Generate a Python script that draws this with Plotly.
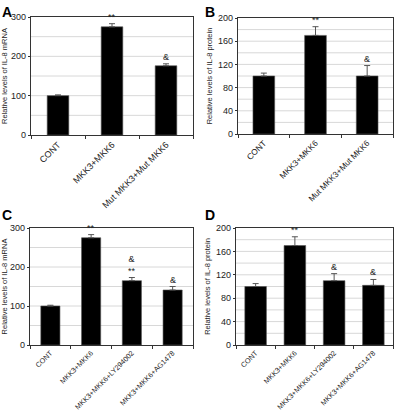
import plotly.graph_objects as go

# ---- data ----
cats_ab = ["CONT", "MKK3+MKK6", "Mut MKK3+Mut MKK6"]
cats_cd = ["CONT", "MKK3+MKK6", "MKK3+MKK6+LY294002", "MKK3+MKK6+AG1478"]

a_vals = [100, 275, 176]
a_err = [2, 8, 5]
a_marks = ["", "**", "&"]

b_vals = [100, 170, 100]
b_err = [5, 15, 18]
b_marks = ["", "**", "&"]

c_vals = [100, 275, 165, 141]
c_err = [2, 8, 8, 9]
c_marks = ["", "**", "&<br>**", "&"]

d_vals = [100, 170, 110, 102]
d_err = [5, 15, 12, 10]
d_marks = ["", "**", "&", "&"]

W, H = 400, 412
FONT = "Liberation Sans, Arial, sans-serif"

panels = [
    ("A", cats_ab, a_vals, a_err, a_marks, "Relative levels of IL-8 mRNA", 300, 100, 50, (31, 193), (17, 135), 0.40, (0, 2), 9),
    ("B", cats_ab, b_vals, b_err, b_marks, "Relative levels of IL-8 protein", 200, 40, 20, (238, 393), (18, 134), 0.42, (203, 2), 8.3),
    ("C", cats_cd, c_vals, c_err, c_marks, "Relative levels of IL-8 mRNA", 300, 100, 50, (30, 193), (228, 345), 0.47, (0, 205), 7.2),
    ("D", cats_cd, d_vals, d_err, d_marks, "Relative levels of IL-8 protein", 200, 40, 20, (236, 393), (228, 345), 0.55, (203, 205), 7.2),
]

fig = go.Figure()
layout = dict(
    width=W, height=H, margin=dict(l=0, r=0, t=0, b=0, autoexpand=False),
    paper_bgcolor="white", plot_bgcolor="white", showlegend=False,
    font=dict(family=FONT, size=9, color="#222"),
)
annotations = []
shapes = []
for i, (lab, cats, vals, err, marks, ytitle, ymax, dtick, grid, xd, yd, bw, lp, xfs) in enumerate(panels):
    n = i + 1
    xa = "x" if n == 1 else f"x{n}"
    ya = "y" if n == 1 else f"y{n}"
    fig.add_trace(go.Bar(
        x=cats, y=vals, xaxis=xa, yaxis=ya, width=bw,
        marker=dict(color="black", line=dict(color="#555", width=0.6)),
        error_y=dict(type="data", array=err, arrayminus=[0] * len(err), symmetric=False,
                     color="#555", thickness=1, width=3),
    ))
    xkey = "xaxis" if n == 1 else f"xaxis{n}"
    ykey = "yaxis" if n == 1 else f"yaxis{n}"
    layout[xkey] = dict(
        domain=[xd[0] / W, xd[1] / W], anchor=ya, type="category", automargin=False,
        showline=True, linecolor="#333", linewidth=1.2, mirror=True,
        ticks="outside", ticklen=3, tickcolor="#333", tickson="boundaries",
        tickangle=-45, tickfont=dict(size=xfs, family=FONT, color="#222"),
        showgrid=False,
    )
    layout[ykey] = dict(
        domain=[1 - yd[1] / H, 1 - yd[0] / H], anchor=xa, automargin=False,
        range=[0, ymax], tickmode="linear", tick0=0, dtick=dtick,
        showline=True, linecolor="#333", linewidth=1.2, mirror=True,
        ticks="outside", ticklen=2, tickcolor="#333",
        showgrid=False, zeroline=False,
        tickfont=dict(size=9, family=FONT, color="#222"),
        title=dict(text=ytitle, font=dict(size=7.5, family=FONT, color="#222"), standoff=4),
    )
    g = grid
    while g < ymax:
        shapes.append(dict(type="line", xref=f"{xa} domain", yref=ya, x0=0, x1=1, y0=g, y1=g,
                           line=dict(color="#d8d8d8", width=1), layer="below"))
        g += grid
    for c, v, e, m in zip(cats, vals, err, marks):
        if m:
            annotations.append(dict(x=c, y=v + e, xref=xa, yref=ya, text=m, showarrow=False,
                                    yanchor="bottom", yshift=0,
                                    font=dict(size=9, family=FONT, color="#222")))
    annotations.append(dict(x=lp[0] / W, y=1 - lp[1] / H, xref="paper", yref="paper",
                            text=f"<b>{lab}</b>", showarrow=False, xanchor="left", yanchor="top",
                            font=dict(size=14, family=FONT, color="black")))

layout["annotations"] = annotations
layout["shapes"] = shapes
fig.update_layout(**layout)
fig.write_html("out.html", config={"displayModeBar": False},
               post_script="document.body.style.margin='0';document.body.style.overflow='hidden';")
